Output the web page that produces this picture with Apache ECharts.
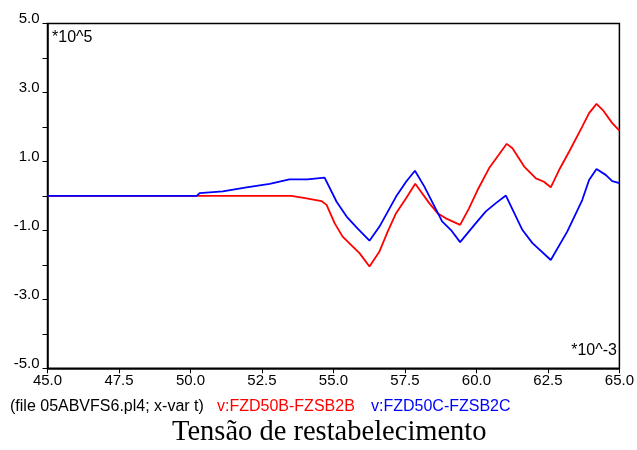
<!DOCTYPE html>
<html>
<head>
<meta charset="utf-8">
<script src="https://cdn.jsdelivr.net/npm/echarts@6/dist/echarts.min.js"></script>
<style>
html,body{margin:0;padding:0;background:#fff;}
#chart{width:637px;height:450px;}
</style>
</head>
<body>
<div id="chart"></div>
<script>
// time in ms (*10^-3 s), voltage in *10^5 V
var redTime = [45.0, 53.53, 54.06, 54.58, 54.76, 55.04, 55.32, 55.91, 56.26, 56.61, 56.90, 57.19, 57.54, 57.86, 58.35, 58.64, 58.93, 59.43, 59.74, 60.04, 60.44, 61.06, 61.26, 61.67, 62.08, 62.36, 62.60, 62.89, 63.24, 63.70, 63.94, 64.20, 64.42, 64.75, 65.0];
var redVolt = [0, 0, -0.07, -0.15, -0.26, -0.79, -1.18, -1.66, -2.05, -1.61, -1.03, -0.50, -0.07, 0.35, -0.21, -0.50, -0.65, -0.84, -0.36, 0.17, 0.80, 1.51, 1.38, 0.85, 0.51, 0.41, 0.25, 0.75, 1.28, 2.01, 2.40, 2.67, 2.49, 2.11, 1.89];
var blueTime = [45.0, 50.22, 50.32, 51.13, 51.96, 52.77, 53.46, 54.09, 54.69, 55.11, 55.46, 55.84, 56.26, 56.61, 57.19, 57.54, 57.85, 58.18, 58.80, 59.11, 59.43, 59.98, 60.33, 60.68, 61.03, 61.61, 61.96, 62.60, 63.18, 63.70, 63.94, 64.20, 64.52, 64.75, 65.0];
var blueVolt = [0, 0, 0.08, 0.13, 0.25, 0.35, 0.48, 0.48, 0.53, -0.17, -0.60, -0.94, -1.30, -0.89, -0.02, 0.41, 0.73, 0.27, -0.74, -0.99, -1.34, -0.79, -0.45, -0.21, 0.01, -0.99, -1.37, -1.86, -1.03, -0.12, 0.46, 0.78, 0.61, 0.43, 0.37];
var redName = 'v:FZD50B-FZSB2B';
var blueName = 'v:FZD50C-FZSB2C';
var fileLabel = '(file 05ABVFS6.pl4; x-var t)';
var yScaleLabel = '*10^5';
var xScaleLabel = '*10^-3';
var chartTitle = 'Tensão de restabelecimento';

function zip(a, b) { return a.map(function (v, i) { return [v, b[i]]; }); }

var chart = echarts.init(document.getElementById('chart'), null, {renderer: 'canvas'});
var font = '"Liberation Sans", Arial, sans-serif';
chart.setOption({
  animation: false,
  grid: {left: 47.5, right: 16.5, top: 23.5, bottom: 81.7, show: true, borderColor: '#000', borderWidth: 1.5, backgroundColor: 'transparent'},
  xAxis: {
    type: 'value', min: 45, max: 65, interval: 2.5,
    axisLine: {show: true, onZero: false, lineStyle: {color: '#000', width: 1.5}},
    axisTick: {show: true, length: 5, lineStyle: {color: '#000'}},
    splitLine: {show: false},
    axisLabel: {color: '#000', fontFamily: font, fontSize: 15, margin: 5, formatter: function (v) { return v.toFixed(1); }}
  },
  yAxis: {
    type: 'value', min: -5, max: 5, interval: 1,
    axisLine: {show: true, lineStyle: {color: '#000', width: 1.5}},
    axisTick: {show: true, length: 5, lineStyle: {color: '#000'}},
    splitLine: {show: false},
    axisLabel: {color: '#000', fontFamily: font, fontSize: 15, margin: 8, verticalAlign: 'bottom', lineHeight: 9,
      formatter: function (v) { return (Math.abs(Math.round(v)) % 2 === 1) ? v.toFixed(1) : ''; }}
  },
  series: [
    {name: redName, type: 'line', data: zip(redTime, redVolt), showSymbol: false, lineStyle: {color: '#ff0000', width: 1.8}, itemStyle: {color: '#ff0000'}},
    {name: blueName, type: 'line', data: zip(blueTime, blueVolt), showSymbol: false, lineStyle: {color: '#0000ff', width: 1.8}, itemStyle: {color: '#0000ff'}}
  ],
  graphic: [
    {type: 'text', left: 52, top: 30, style: {text: yScaleLabel, fill: '#000', font: '16px ' + font}},
    {type: 'text', right: 20, top: 343, style: {text: xScaleLabel, fill: '#000', font: '16px ' + font}},
    {type: 'text', left: 10, top: 399, style: {text: fileLabel, fill: '#000', font: '16px ' + font}},
    {type: 'text', left: 217, top: 399, style: {text: redName, fill: '#ff0000', font: '16px ' + font}},
    {type: 'text', left: 371, top: 399, style: {text: blueName, fill: '#0000ff', font: '16px ' + font}},
    {type: 'text', left: 172, top: 418, style: {text: chartTitle, fill: '#000', font: '28.5px "Liberation Serif", "Times New Roman", serif'}}
  ]
});
</script>
</body>
</html>
